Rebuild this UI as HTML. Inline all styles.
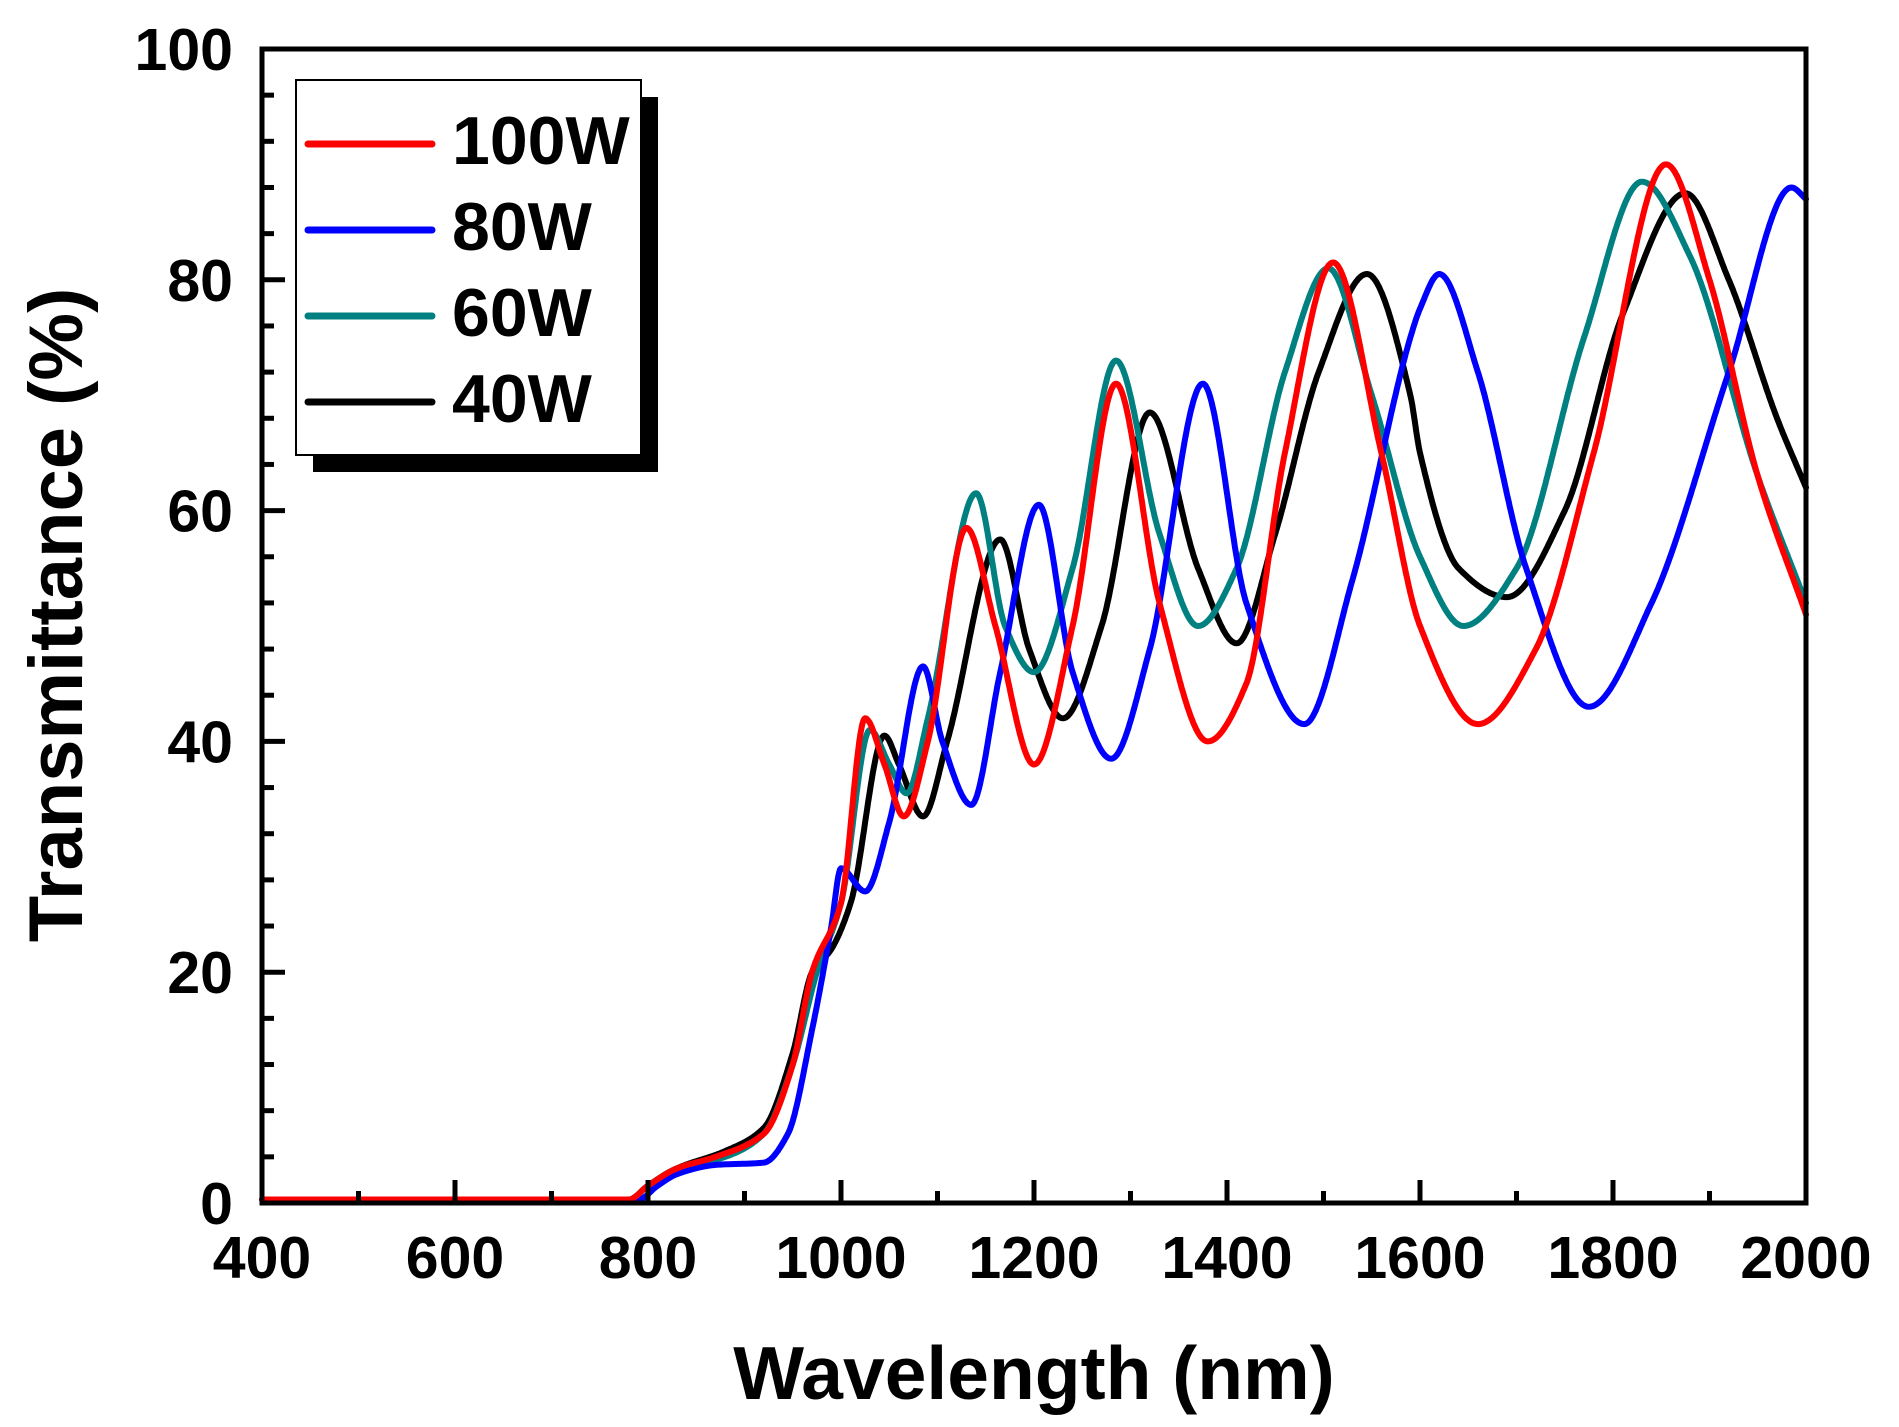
<!DOCTYPE html>
<html><head><meta charset="utf-8"><style>
html,body{margin:0;padding:0;background:#fff;}
svg{display:block;}
text{font-family:"Liberation Sans",Arial,sans-serif;font-weight:bold;fill:#000;}
</style></head><body>
<svg id="s" width="1899" height="1427" viewBox="0 0 1899 1427" xmlns="http://www.w3.org/2000/svg">
<g id="curves" fill="none" stroke-width="6" stroke-linejoin="round" stroke-linecap="round"></g>
<g id="axes" stroke="#000" stroke-width="5" fill="none"></g>
<g id="labels" font-size="59" text-anchor="middle"></g>
<text x="1034" y="1399" font-size="75" text-anchor="middle">Wavelength (nm)</text>
<text transform="translate(82,615) rotate(-90)" font-size="76" text-anchor="middle">Transmittance (%)</text>
<rect x="313" y="97" width="345" height="375" fill="#000"/>
<rect x="296" y="80" width="345" height="375" fill="#fff" stroke="#000" stroke-width="2"/>
<g stroke-width="7" stroke-linecap="round">
<line x1="308" y1="144" x2="432" y2="144" stroke="#ff0000"/>
<line x1="308" y1="230" x2="432" y2="230" stroke="#0000ff"/>
<line x1="308" y1="316" x2="432" y2="316" stroke="#008080"/>
<line x1="308" y1="402" x2="432" y2="402" stroke="#000"/>
</g>
<g font-size="68">
<text x="452" y="164">100W</text>
<text x="452" y="250">80W</text>
<text x="452" y="336">60W</text>
<text x="452" y="422">40W</text>
</g>
</svg>
<script>
var L=262,R=1806,T=49,B=1203;
function X(n){return L+(n-400)*(R-L)/1600;}
function Y(t){return B-t*(B-T)/100;}
var ax=document.getElementById('axes'),lb=document.getElementById('labels');
var h='<rect x="'+L+'" y="'+T+'" width="'+(R-L)+'" height="'+(B-T)+'"/>';
var lbh='';
for(var n=400;n<=2000;n+=100){var x=X(n),len=(n%200==0)?23:12;h+='<line x1="'+x+'" y1="'+B+'" x2="'+x+'" y2="'+(B-len)+'"/>';
 if(n%200==0)lbh+='<text x="'+x+'" y="1278">'+n+'</text>';}
for(var t=0;t<=100;t+=4){var y=Y(t),len=(t%20==0)?23:12;h+='<line x1="'+L+'" y1="'+y+'" x2="'+(L+len)+'" y2="'+y+'"/>';}
for(var t=0;t<=100;t+=20){lbh+='<text x="233" y="'+(Y(t)+21)+'" text-anchor="end">'+t+'</text>';}
ax.innerHTML=h;lb.innerHTML=lbh;
var data={
black:[[400,0.3],[780,0.3],[800,1.5],[830,3],[880,4.5],[920,6.5],[950,13],[970,20],[990,22],[1010,26],[1045,40.5],[1060,38],[1085,33.5],[1110,40],[1165,57.5],[1195,48],[1230,42],[1270,50],[1320,68.5],[1370,55],[1410,48.5],[1450,58],[1495,72],[1545,80.5],[1590,70],[1600,65],[1640,55],[1690,52.5],[1750,60],[1810,77],[1875,87.5],[1920,80],[1970,68],[2000,62]],
teal:[[400,0.3],[780,0.3],[800,1.5],[830,3],[880,4],[920,6],[950,12],[975,20],[1000,26],[1030,41],[1050,38],[1068,35.5],[1090,42],[1140,61.5],[1170,50],[1200,46],[1240,55],[1285,73],[1330,58],[1370,50],[1410,55],[1460,72],[1505,81],[1550,70],[1600,56],[1645,50],[1700,55],[1770,75],[1830,88.5],[1880,82],[1950,63],[2000,52]],
red:[[400,0.3],[780,0.3],[800,1.5],[830,3],[870,4],[920,6],[950,12],[970,20],[1000,26],[1025,42],[1045,38],[1065,33.5],[1090,40],[1130,58.5],[1160,50],[1200,38],[1240,50],[1285,71],[1330,52],[1380,40],[1420,45],[1460,65],[1510,81.5],[1560,65],[1600,50],[1660,41.5],[1720,48],[1780,65],[1855,90],[1900,80],[1950,63],[2000,51]],
blue:[[400,0.3],[790,0.3],[810,1.5],[830,2.5],[870,3.3],[920,3.5],[945,6],[970,15],[990,24],[1000,29],[1025,27],[1050,33],[1085,46.5],[1105,40],[1135,34.5],[1165,46],[1205,60.5],[1240,46],[1280,38.5],[1320,48],[1375,71],[1420,52],[1480,41.5],[1530,54],[1590,75],[1600,77.5],[1620,80.5],[1660,72],[1710,55],[1775,43],[1840,52],[1920,72],[1985,88],[2000,87]]};
var col={black:'#000',teal:'#008080',blue:'#0000ff',red:'#ff0000'};
function mono(pts){
 var n=pts.length,xs=pts.map(function(p){return p[0]}),ys=pts.map(function(p){return p[1]});
 var d=[],m=[];for(var i=0;i<n-1;i++)d.push((ys[i+1]-ys[i])/(xs[i+1]-xs[i]));
 m[0]=d[0];m[n-1]=d[n-2];
 for(var i=1;i<n-1;i++){if(d[i-1]*d[i]<=0)m[i]=0;else{var w1=2*(xs[i+1]-xs[i])+(xs[i]-xs[i-1]),w2=(xs[i+1]-xs[i])+2*(xs[i]-xs[i-1]);m[i]=(w1+w2)/(w1/d[i-1]+w2/d[i]);}}
 var out=[];
 for(var i=0;i<n-1;i++){var hh=xs[i+1]-xs[i];
  for(var x=xs[i];x<xs[i+1];x+=1){var t=(x-xs[i])/hh,t2=t*t,t3=t2*t;
   var y=(2*t3-3*t2+1)*ys[i]+(t3-2*t2+t)*hh*m[i]+(-2*t3+3*t2)*ys[i+1]+(t3-t2)*hh*m[i+1];
   out.push([x,y]);}}
 out.push([xs[n-1],ys[n-1]]);return out;}
var g='';
['black','teal','blue','red'].forEach(function(k){var p=mono(data[k]);
 var d='M'+p.map(function(a){return X(a[0]).toFixed(1)+','+Y(a[1]).toFixed(1);}).join('L');
 g+='<path d="'+d+'" stroke="'+col[k]+'"/>';});
document.getElementById('curves').innerHTML=g;
</script>
</body></html>
